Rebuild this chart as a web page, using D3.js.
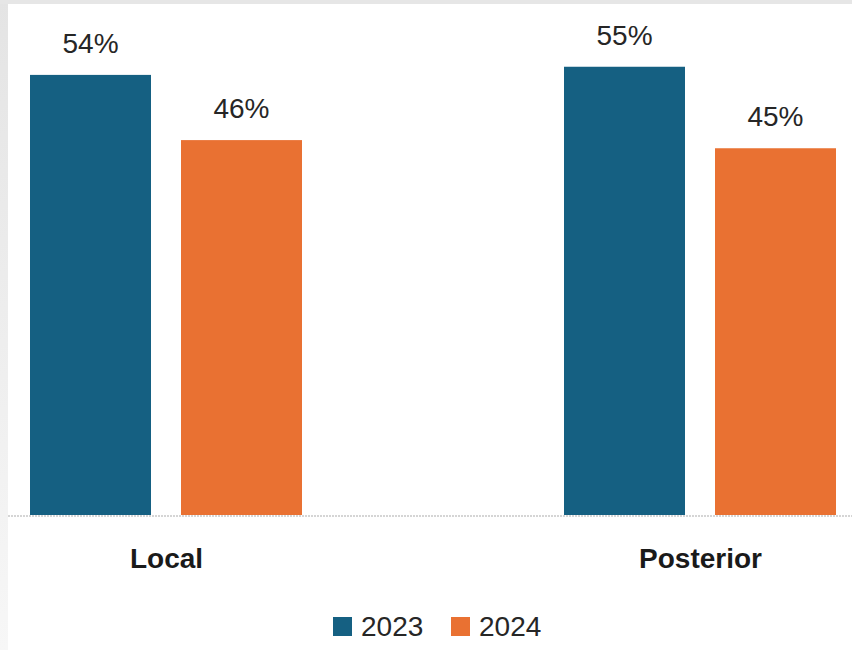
<!DOCTYPE html>
<html>
<head>
<meta charset="utf-8">
<script src="https://cdn.jsdelivr.net/npm/d3@7"></script>
<style>
  html, body { margin: 0; padding: 0; background: #ffffff; }
  svg { display: block; }
</style>
</head>
<body>
<svg id="chart" width="852" height="650"></svg>
<script>
const categories = ["Local", "Posterior"];
const seriesNames = ["2023", "2024"];
const values2023 = [54, 55];
const values2024 = [46, 45];
const valueLabels2023 = ["54%", "55%"];
const valueLabels2024 = ["46%", "45%"];
const colors = ["#156082", "#E97132"];

const svg = d3.select("#chart");
const W = 852, H = 650;

// outer frame
const defs = svg.append("defs");
const grad = defs.append("linearGradient").attr("id", "leftStrip")
  .attr("x1", 0).attr("y1", 0).attr("x2", 0).attr("y2", 1);
grad.append("stop").attr("offset", "0%").attr("stop-color", "#e4e4e4");
grad.append("stop").attr("offset", "100%").attr("stop-color", "#f7f7f7");
svg.append("rect").attr("x", 0).attr("y", 0).attr("width", W).attr("height", H).attr("fill", "url(#leftStrip)");
svg.append("rect").attr("x", 0).attr("y", 0).attr("width", W).attr("height", 4).attr("fill", "#e6e6e6");
svg.append("rect").attr("x", 8).attr("y", 4).attr("width", W - 8).attr("height", H - 4).attr("fill", "#ffffff");

const baseY = 515;
const y = d3.scaleLinear().domain([0, 60]).range([baseY, baseY - 60 * 8.15]);

const x0 = d3.scalePoint().domain(categories).range([166, 700]);
const x1 = d3.scaleBand().domain(seriesNames).range([-136, 136]).paddingInner(0.1987).paddingOuter(0);
const color = d3.scaleOrdinal().domain(seriesNames).range(colors);

const rows = categories.map((c, i) => ({
  cat: c,
  items: [
    { s: seriesNames[0], v: values2023[i], label: valueLabels2023[i] },
    { s: seriesNames[1], v: values2024[i], label: valueLabels2024[i] }
  ]
}));

const groups = svg.selectAll("g.cat").data(rows).join("g")
  .attr("class", "cat")
  .attr("transform", d => `translate(${x0(d.cat)},0)`);

groups.selectAll("rect").data(d => d.items).join("rect")
  .attr("x", d => x1(d.s))
  .attr("y", d => y(d.v))
  .attr("width", x1.bandwidth())
  .attr("height", d => y(0) - y(d.v))
  .attr("fill", d => color(d.s));

groups.selectAll("text.val").data(d => d.items).join("text")
  .attr("class", "val")
  .attr("x", d => x1(d.s) + x1.bandwidth() / 2)
  .attr("y", d => y(d.v) - 22)
  .attr("text-anchor", "middle")
  .attr("font-family", "Liberation Sans, Arial, sans-serif")
  .attr("font-size", 28)
  .attr("fill", "#262626")
  .text(d => d.label);

// axis baseline
const xAxis = d3.axisBottom(x0).tickSize(0).tickPadding(32);
const axisG = svg.append("g").attr("transform", `translate(0,${baseY + 1})`).call(xAxis);
axisG.select(".domain").remove();
svg.append("line")
  .attr("x1", 8).attr("x2", W).attr("y1", baseY + 1).attr("y2", baseY + 1)
  .attr("stroke", "#c8c8c8").attr("stroke-width", 1.5).attr("stroke-dasharray", "2,1");
axisG.selectAll("text")
  .attr("font-family", "Liberation Sans, Arial, sans-serif")
  .attr("font-size", 28)
  .attr("font-weight", "bold")
  .attr("fill", "#1a1a1a")
  .attr("dy", "0.71em");

// legend
const legendItems = [
  { s: seriesNames[0], x: 333 },
  { s: seriesNames[1], x: 451 }
];
const lg = svg.append("g");
lg.selectAll("rect").data(legendItems).join("rect")
  .attr("x", d => d.x).attr("y", 617).attr("width", 19).attr("height", 19)
  .attr("fill", d => color(d.s));
lg.selectAll("text").data(legendItems).join("text")
  .attr("x", d => d.x + 28).attr("y", 636)
  .attr("font-family", "Liberation Sans, Arial, sans-serif")
  .attr("font-size", 28)
  .attr("fill", "#262626")
  .text(d => d.s);
</script>
</body>
</html>
